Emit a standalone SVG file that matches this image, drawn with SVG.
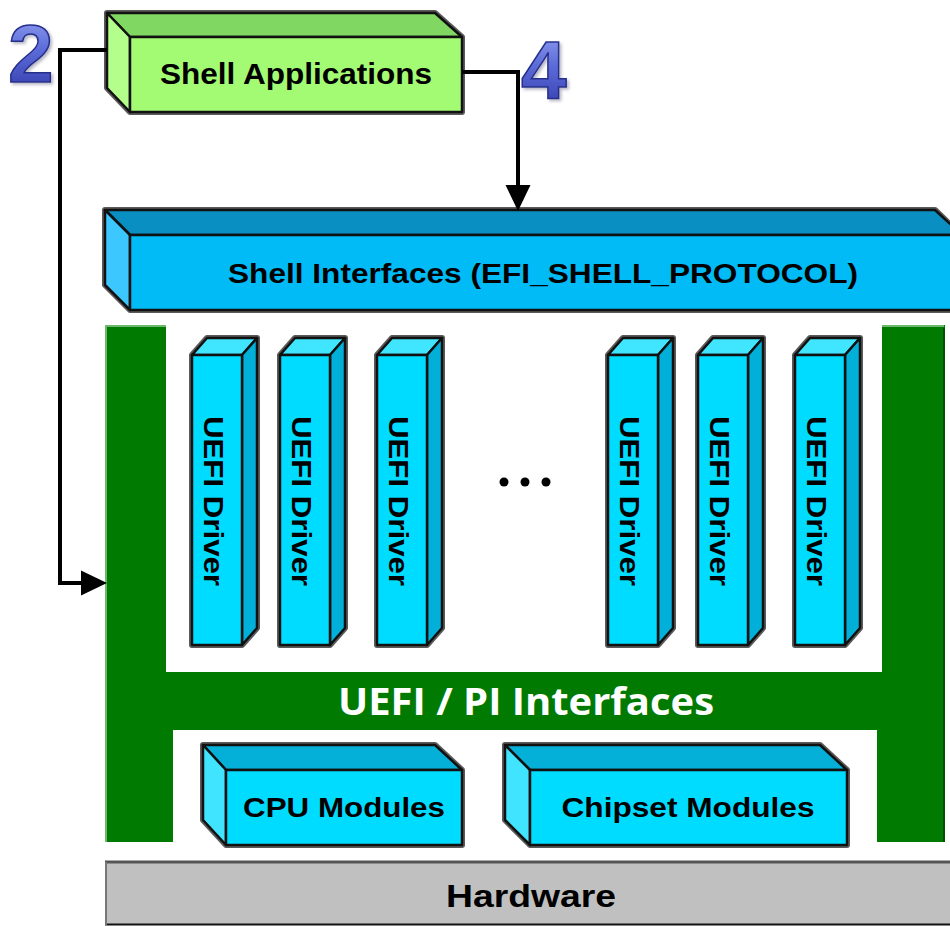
<svg xmlns="http://www.w3.org/2000/svg" width="950" height="926" viewBox="0 0 950 926">
  <defs>
    <linearGradient id="digitFill" x1="0" y1="0" x2="0" y2="1">
      <stop offset="0" stop-color="#9aa8f4"/>
      <stop offset="0.45" stop-color="#5c6cd8"/>
      <stop offset="1" stop-color="#3038a8"/>
    </linearGradient>
    <filter id="digitShadow" x="-20%" y="-20%" width="150%" height="150%">
      <feDropShadow dx="2" dy="2" stdDeviation="1.5" flood-color="#8888a0" flood-opacity="0.6"/>
    </filter>
    <marker id="arrowHead" markerUnits="userSpaceOnUse" markerWidth="26" markerHeight="26" refX="0" refY="12.5" orient="auto" viewBox="0 0 26 25">
      <path d="M0,0 L26,12.5 L0,25 z" fill="#000"/>
    </marker>
  </defs>
  <style>
    .edge { stroke: #111; stroke-width: 2.5; stroke-linejoin: round; }
    .halo { fill: none; stroke: #5a5a5a; stroke-width: 6; stroke-linejoin: round; }
    .lbl { font-family: "Liberation Sans", Arial, sans-serif; font-weight: bold; fill: #000; }
    .digit { font-family: "Liberation Sans", Arial, sans-serif; font-weight: bold; font-size: 82px; fill: url(#digitFill); stroke: #262e8c; stroke-width: 1.5; filter: url(#digitShadow); }
    .wire { fill: none; stroke: #000; stroke-width: 4; stroke-linejoin: miter; }
    .drvFront { fill: #00dcff; }
    .drvTop { fill: #40e6ff; }
    .drvSide { fill: #00b0d8; }
    .modFront { fill: #00dcff; }
    .modTop { fill: #05b0d8; }
    .modLeft { fill: #40e4ff; }
  </style>

  <rect x="0" y="0" width="950" height="926" fill="#fff"/>

  <!-- step numbers -->
  <g id="step-2">
    <text class="digit" x="8" y="82">2</text>
  </g>
  <g id="step-4">
    <text class="digit" x="521" y="98">4</text>
  </g>

  <!-- Shell Applications -->
  <g id="shell-applications">
    <path class="halo" d="M107,13 L435,13 L462,37 L462,112 L130,112 L107,88 Z"/>
    <polygon class="edge" fill="#80d862" points="107,13 435,13 462,37 130,37"/>
    <polygon class="edge" fill="#b4ff8c" points="107,13 130,37 130,112 107,88"/>
    <rect class="edge" fill="#a3fb73" x="130" y="37" width="332" height="75"/>
    <text class="lbl" x="296" y="84" font-size="29" text-anchor="middle" textLength="272" lengthAdjust="spacingAndGlyphs">Shell Applications</text>
  </g>

  <!-- Shell Interfaces -->
  <g id="shell-interfaces">
    <path class="halo" d="M105,210 L935,210 L962,236 L962,310 L130,310 L105,285 Z"/>
    <polygon class="edge" fill="#0a8fc2" points="105,210 935,210 962,235 130,235"/>
    <polygon class="edge" fill="#3cc8ff" points="105,210 130,235 130,310 105,285"/>
    <rect class="edge" fill="#00bbf5" x="130" y="235" width="835" height="75"/>
    <text class="lbl" x="543" y="283" font-size="28" text-anchor="middle" textLength="630" lengthAdjust="spacingAndGlyphs">Shell Interfaces (EFI_SHELL_PROTOCOL)</text>
  </g>

  <!-- UEFI / PI interface frame -->
  <g id="uefi-pi-interfaces">
    <path fill="#007a00" d="M105,325 H166 V672 H882 V325 H945 V842 H877 V730 H173 V842 H105 Z"/>
    <path d="M106,326 V842" stroke="#6cb86c" stroke-width="2"/>
    <path d="M105,326 H166 M882,326 H944" stroke="#6cb86c" stroke-width="2"/>
    <path d="M944,328 V842" stroke="#005200" stroke-width="2"/>
    <text x="526" y="715" font-family="'Open Sans', 'Noto Sans', sans-serif" font-weight="bold" font-size="38" fill="#fff" text-anchor="middle" textLength="376" lengthAdjust="spacingAndGlyphs">UEFI / PI Interfaces</text>
  </g>

  <!-- UEFI drivers -->
  <g id="driver-1">
    <path class="halo" d="M192,355 L207,338 L257,338 L257,628 L242,645 L192,645 Z"/>
    <polygon class="edge drvTop" points="192,355 207,338 257,338 242,355"/>
    <polygon class="edge drvSide" points="242,355 257,338 257,628 242,645"/>
    <rect class="edge drvFront" x="192" y="355" width="50" height="290"/>
    <text class="lbl" font-size="28" transform="translate(204,501) rotate(90)" text-anchor="middle" textLength="170" lengthAdjust="spacingAndGlyphs">UEFI Driver</text>
  </g>
  <g id="driver-2">
    <path class="halo" d="M280,355 L295,338 L345,338 L345,628 L330,645 L280,645 Z"/>
    <polygon class="edge drvTop" points="280,355 295,338 345,338 330,355"/>
    <polygon class="edge drvSide" points="330,355 345,338 345,628 330,645"/>
    <rect class="edge drvFront" x="280" y="355" width="50" height="290"/>
    <text class="lbl" font-size="28" transform="translate(292,501) rotate(90)" text-anchor="middle" textLength="170" lengthAdjust="spacingAndGlyphs">UEFI Driver</text>
  </g>
  <g id="driver-3">
    <path class="halo" d="M377,355 L392,338 L442,338 L442,628 L427,645 L377,645 Z"/>
    <polygon class="edge drvTop" points="377,355 392,338 442,338 427,355"/>
    <polygon class="edge drvSide" points="427,355 442,338 442,628 427,645"/>
    <rect class="edge drvFront" x="377" y="355" width="50" height="290"/>
    <text class="lbl" font-size="28" transform="translate(389,501) rotate(90)" text-anchor="middle" textLength="170" lengthAdjust="spacingAndGlyphs">UEFI Driver</text>
  </g>
  <g id="driver-ellipsis">
    <circle cx="504" cy="482" r="4.5" fill="#000"/>
    <circle cx="525" cy="482" r="4.5" fill="#000"/>
    <circle cx="546" cy="482" r="4.5" fill="#000"/>
  </g>
  <g id="driver-4">
    <path class="halo" d="M608,355 L623,338 L673,338 L673,628 L658,645 L608,645 Z"/>
    <polygon class="edge drvTop" points="608,355 623,338 673,338 658,355"/>
    <polygon class="edge drvSide" points="658,355 673,338 673,628 658,645"/>
    <rect class="edge drvFront" x="608" y="355" width="50" height="290"/>
    <text class="lbl" font-size="28" transform="translate(620,501) rotate(90)" text-anchor="middle" textLength="170" lengthAdjust="spacingAndGlyphs">UEFI Driver</text>
  </g>
  <g id="driver-5">
    <path class="halo" d="M698,355 L713,338 L763,338 L763,628 L748,645 L698,645 Z"/>
    <polygon class="edge drvTop" points="698,355 713,338 763,338 748,355"/>
    <polygon class="edge drvSide" points="748,355 763,338 763,628 748,645"/>
    <rect class="edge drvFront" x="698" y="355" width="50" height="290"/>
    <text class="lbl" font-size="28" transform="translate(710,501) rotate(90)" text-anchor="middle" textLength="170" lengthAdjust="spacingAndGlyphs">UEFI Driver</text>
  </g>
  <g id="driver-6">
    <path class="halo" d="M795,355 L810,338 L860,338 L860,628 L845,645 L795,645 Z"/>
    <polygon class="edge drvTop" points="795,355 810,338 860,338 845,355"/>
    <polygon class="edge drvSide" points="845,355 860,338 860,628 845,645"/>
    <rect class="edge drvFront" x="795" y="355" width="50" height="290"/>
    <text class="lbl" font-size="28" transform="translate(807,501) rotate(90)" text-anchor="middle" textLength="170" lengthAdjust="spacingAndGlyphs">UEFI Driver</text>
  </g>

  <!-- platform modules -->
  <g id="cpu-modules">
    <path class="halo" d="M203,745 L435,745 L462,770 L462,845 L226,845 L203,820 Z"/>
    <polygon class="edge modTop" points="203,745 435,745 462,770 226,770"/>
    <polygon class="edge modLeft" points="203,745 226,770 226,845 203,820"/>
    <rect class="edge modFront" x="226" y="770" width="236" height="75"/>
    <text class="lbl" x="344" y="817" font-size="28" text-anchor="middle" textLength="202" lengthAdjust="spacingAndGlyphs">CPU Modules</text>
  </g>
  <g id="chipset-modules">
    <path class="halo" d="M505,745 L820,745 L847,770 L847,845 L530,845 L505,820 Z"/>
    <polygon class="edge modTop" points="505,745 820,745 847,770 530,770"/>
    <polygon class="edge modLeft" points="505,745 530,770 530,845 505,820"/>
    <rect class="edge modFront" x="530" y="770" width="317" height="75"/>
    <text class="lbl" x="688" y="817" font-size="28" text-anchor="middle" textLength="253" lengthAdjust="spacingAndGlyphs">Chipset Modules</text>
  </g>

  <!-- Hardware -->
  <g id="hardware">
    <rect x="105" y="862" width="850" height="63" fill="#c0c0c0"/>
    <path d="M105,862 H950" stroke="#555" stroke-width="3"/>
    <path d="M105,924.5 H950" stroke="#111" stroke-width="2"/>
    <path d="M106,862 V925" stroke="#777" stroke-width="2"/>
    <text class="lbl" x="531" y="907" font-size="32" text-anchor="middle" textLength="170" lengthAdjust="spacingAndGlyphs">Hardware</text>
  </g>

  <!-- connectors -->
  <g id="connectors">
    <path class="wire" d="M107,50 H60 V583 H81" marker-end="url(#arrowHead)"/>
    <path class="wire" d="M462,72 H518 V185" marker-end="url(#arrowHead)"/>
  </g>
</svg>
